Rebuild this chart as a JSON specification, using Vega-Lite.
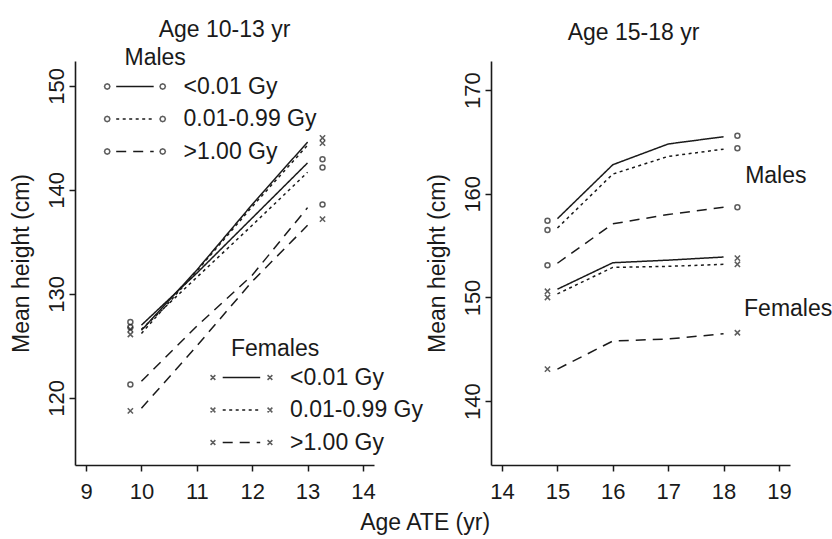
{
  "$schema": "https://vega.github.io/schema/vega-lite/v6.json",
  "background": "white",
  "padding": {"left": 10, "top": 19, "right": 2, "bottom": 2},
  "config": {
    "view": {"stroke": null},
    "font": "Liberation Sans",
    "axis": {"grid": false, "domainColor": "#1a1a1a", "domainWidth": 1.6, "tickColor": "#1a1a1a", "tickWidth": 1.5, "tickSize": 6, "labelFont": "Liberation Sans", "labelFontSize": 22, "labelColor": "#1a1a1a", "titleFont": "Liberation Sans", "titleFontSize": 23, "titleFontWeight": "normal", "titleColor": "#1a1a1a", "format": "d"},
    "axisY": {"labelAngle": -90, "labelAlign": "center", "labelBaseline": "bottom", "labelPadding": 1, "titlePadding": 12},
    "axisX": {"labelPadding": 10},
    "legend": {"labelFont": "Liberation Sans", "titleFont": "Liberation Sans", "labelFontSize": 23, "titleFontSize": 23, "titleFontWeight": "normal", "labelColor": "#1a1a1a", "titleColor": "#1a1a1a", "padding": 0, "rowPadding": 4.5, "titlePadding": 0.5, "symbolSize": 900, "symbolStrokeWidth": 1.5, "symbolFillColor": "transparent", "labelOffset": 27},
    "title": {"font": "Liberation Sans", "fontSize": 23, "fontWeight": "normal", "color": "#1a1a1a"},
    "concat": {"spacing": 3}
  },
  "datasets": {
    "lines": [
      {"p": "L", "sex": "M", "dose": "<0.01 Gy", "age": 10, "h": 127.0},
      {"p": "L", "sex": "M", "dose": "<0.01 Gy", "age": 11, "h": 132.0},
      {"p": "L", "sex": "M", "dose": "<0.01 Gy", "age": 12, "h": 137.3},
      {"p": "L", "sex": "M", "dose": "<0.01 Gy", "age": 13, "h": 142.6},
      {"p": "L", "sex": "M", "dose": "0.01-0.99 Gy", "age": 10, "h": 126.6},
      {"p": "L", "sex": "M", "dose": "0.01-0.99 Gy", "age": 11, "h": 131.6},
      {"p": "L", "sex": "M", "dose": "0.01-0.99 Gy", "age": 12, "h": 136.6},
      {"p": "L", "sex": "M", "dose": "0.01-0.99 Gy", "age": 13, "h": 141.7},
      {"p": "L", "sex": "M", "dose": ">1.00 Gy", "age": 10, "h": 121.6},
      {"p": "L", "sex": "M", "dose": ">1.00 Gy", "age": 11, "h": 126.9},
      {"p": "L", "sex": "M", "dose": ">1.00 Gy", "age": 12, "h": 131.8},
      {"p": "L", "sex": "M", "dose": ">1.00 Gy", "age": 13, "h": 138.3},
      {"p": "L", "sex": "F", "dose": "<0.01 Gy", "age": 10, "h": 126.5},
      {"p": "L", "sex": "F", "dose": "<0.01 Gy", "age": 11, "h": 132.3},
      {"p": "L", "sex": "F", "dose": "<0.01 Gy", "age": 12, "h": 138.6},
      {"p": "L", "sex": "F", "dose": "<0.01 Gy", "age": 13, "h": 144.6},
      {"p": "L", "sex": "F", "dose": "0.01-0.99 Gy", "age": 10, "h": 126.2},
      {"p": "L", "sex": "F", "dose": "0.01-0.99 Gy", "age": 11, "h": 132.2},
      {"p": "L", "sex": "F", "dose": "0.01-0.99 Gy", "age": 12, "h": 138.4},
      {"p": "L", "sex": "F", "dose": "0.01-0.99 Gy", "age": 13, "h": 144.3},
      {"p": "L", "sex": "F", "dose": ">1.00 Gy", "age": 10, "h": 119.0},
      {"p": "L", "sex": "F", "dose": ">1.00 Gy", "age": 11, "h": 125.0},
      {"p": "L", "sex": "F", "dose": ">1.00 Gy", "age": 12, "h": 131.2},
      {"p": "L", "sex": "F", "dose": ">1.00 Gy", "age": 13, "h": 136.6},
      {"p": "R", "sex": "M", "dose": "<0.01 Gy", "age": 15, "h": 157.6},
      {"p": "R", "sex": "M", "dose": "<0.01 Gy", "age": 16, "h": 162.8},
      {"p": "R", "sex": "M", "dose": "<0.01 Gy", "age": 17, "h": 164.8},
      {"p": "R", "sex": "M", "dose": "<0.01 Gy", "age": 18, "h": 165.5},
      {"p": "R", "sex": "M", "dose": "0.01-0.99 Gy", "age": 15, "h": 156.7},
      {"p": "R", "sex": "M", "dose": "0.01-0.99 Gy", "age": 16, "h": 161.9},
      {"p": "R", "sex": "M", "dose": "0.01-0.99 Gy", "age": 17, "h": 163.6},
      {"p": "R", "sex": "M", "dose": "0.01-0.99 Gy", "age": 18, "h": 164.3},
      {"p": "R", "sex": "M", "dose": ">1.00 Gy", "age": 15, "h": 153.3},
      {"p": "R", "sex": "M", "dose": ">1.00 Gy", "age": 16, "h": 157.1},
      {"p": "R", "sex": "M", "dose": ">1.00 Gy", "age": 17, "h": 158.0},
      {"p": "R", "sex": "M", "dose": ">1.00 Gy", "age": 18, "h": 158.7},
      {"p": "R", "sex": "F", "dose": "<0.01 Gy", "age": 15, "h": 150.8},
      {"p": "R", "sex": "F", "dose": "<0.01 Gy", "age": 16, "h": 153.35},
      {"p": "R", "sex": "F", "dose": "<0.01 Gy", "age": 17, "h": 153.6},
      {"p": "R", "sex": "F", "dose": "<0.01 Gy", "age": 18, "h": 153.9},
      {"p": "R", "sex": "F", "dose": "0.01-0.99 Gy", "age": 15, "h": 150.35},
      {"p": "R", "sex": "F", "dose": "0.01-0.99 Gy", "age": 16, "h": 152.9},
      {"p": "R", "sex": "F", "dose": "0.01-0.99 Gy", "age": 17, "h": 153.0},
      {"p": "R", "sex": "F", "dose": "0.01-0.99 Gy", "age": 18, "h": 153.2},
      {"p": "R", "sex": "F", "dose": ">1.00 Gy", "age": 15, "h": 143.1},
      {"p": "R", "sex": "F", "dose": ">1.00 Gy", "age": 16, "h": 145.8},
      {"p": "R", "sex": "F", "dose": ">1.00 Gy", "age": 17, "h": 146.0},
      {"p": "R", "sex": "F", "dose": ">1.00 Gy", "age": 18, "h": 146.5}
    ],
    "markers": [
      {"p": "L", "sex": "M", "dose": "<0.01 Gy", "age": 9.8, "h": 127.3},
      {"p": "L", "sex": "M", "dose": "0.01-0.99 Gy", "age": 9.8, "h": 126.8},
      {"p": "L", "sex": "M", "dose": ">1.00 Gy", "age": 9.8, "h": 121.3},
      {"p": "L", "sex": "F", "dose": "<0.01 Gy", "age": 9.8, "h": 126.6},
      {"p": "L", "sex": "F", "dose": "0.01-0.99 Gy", "age": 9.8, "h": 126.1},
      {"p": "L", "sex": "F", "dose": ">1.00 Gy", "age": 9.8, "h": 118.75},
      {"p": "L", "sex": "M", "dose": "<0.01 Gy", "age": 13.27, "h": 142.95},
      {"p": "L", "sex": "M", "dose": "0.01-0.99 Gy", "age": 13.27, "h": 142.15},
      {"p": "L", "sex": "M", "dose": ">1.00 Gy", "age": 13.27, "h": 138.6},
      {"p": "L", "sex": "F", "dose": "<0.01 Gy", "age": 13.27, "h": 145.0},
      {"p": "L", "sex": "F", "dose": "0.01-0.99 Gy", "age": 13.27, "h": 144.5},
      {"p": "L", "sex": "F", "dose": ">1.00 Gy", "age": 13.27, "h": 137.2},
      {"p": "R", "sex": "M", "dose": "<0.01 Gy", "age": 14.82, "h": 157.4},
      {"p": "R", "sex": "M", "dose": "0.01-0.99 Gy", "age": 14.82, "h": 156.5},
      {"p": "R", "sex": "M", "dose": ">1.00 Gy", "age": 14.82, "h": 153.1},
      {"p": "R", "sex": "F", "dose": "<0.01 Gy", "age": 14.82, "h": 150.6},
      {"p": "R", "sex": "F", "dose": "0.01-0.99 Gy", "age": 14.82, "h": 150.0},
      {"p": "R", "sex": "F", "dose": ">1.00 Gy", "age": 14.82, "h": 143.1},
      {"p": "R", "sex": "M", "dose": "<0.01 Gy", "age": 18.25, "h": 165.6},
      {"p": "R", "sex": "M", "dose": "0.01-0.99 Gy", "age": 18.25, "h": 164.4},
      {"p": "R", "sex": "M", "dose": ">1.00 Gy", "age": 18.25, "h": 158.7},
      {"p": "R", "sex": "F", "dose": "<0.01 Gy", "age": 18.25, "h": 153.8},
      {"p": "R", "sex": "F", "dose": "0.01-0.99 Gy", "age": 18.25, "h": 153.2},
      {"p": "R", "sex": "F", "dose": ">1.00 Gy", "age": 18.25, "h": 146.6}
    ],
    "labels": [
      {"p": "R", "text": "Males", "age": 18.39, "h": 161.7},
      {"p": "R", "text": "Females", "age": 18.37, "h": 148.9}
    ]
  },
  "title": {"text": "Age ATE (yr)", "orient": "bottom", "anchor": "middle", "offset": 10, "dx": 4},
  "resolve": {"scale": {"x": "independent", "y": "independent", "strokeDash": "independent", "shape": "independent"}},
  "hconcat": [
    {
      "width": 299,
      "height": 404,
      "title": {"text": "Age 10-13 yr", "offset": 5},
      "layer": [
        {
          "data": {"name": "lines"},
          "transform": [{"filter": "datum.p == 'L' && datum.sex == 'M'"}],
          "mark": {"type": "line", "color": "#1a1a1a", "strokeWidth": 1.5},
          "encoding": {
            "x": {"field": "age", "type": "quantitative", "scale": {"domain": [8.8, 14.2], "nice": false, "zero": false}, "axis": {"title": null, "values": [9, 10, 11, 12, 13, 14]}},
            "y": {"field": "h", "type": "quantitative", "scale": {"domain": [113.55, 152.4], "nice": false, "zero": false}, "axis": {"title": "Mean height (cm)", "values": [120, 130, 140, 150]}},
            "strokeDash": {"field": "dose", "type": "nominal", "scale": {"domain": ["<0.01 Gy", "0.01-0.99 Gy", ">1.00 Gy"], "range": [[1, 0], [3, 3.5], [10, 7]]}, "legend": {"title": "Males", "orient": "none", "legendX": 49.5, "legendY": -14, "symbolType": "M-1.62,0L0.88,0"}}
          }
        },
        {
          "data": {"name": "lines"},
          "transform": [{"filter": "datum.p == 'L' && datum.sex == 'F'"}],
          "mark": {"type": "line", "color": "#1a1a1a", "strokeWidth": 1.5},
          "encoding": {
            "x": {"field": "age", "type": "quantitative"},
            "y": {"field": "h", "type": "quantitative"},
            "strokeDash": {"field": "dose", "type": "nominal", "scale": {"domain": ["<0.01 Gy", "0.01-0.99 Gy", ">1.00 Gy"], "range": [[1, 0], [3, 3.5], [10, 7]]}, "legend": {"title": "Females", "orient": "none", "legendX": 156, "legendY": 277, "symbolType": "M-1.62,0L0.88,0"}}
          }
        },
        {
          "data": {"name": "markers"},
          "transform": [{"filter": "datum.p == 'L' && datum.sex == 'M'"}],
          "mark": {"type": "point", "shape": "circle", "size": 25, "filled": false, "color": "#1a1a1a", "strokeWidth": 1.5},
          "encoding": {
            "x": {"field": "age", "type": "quantitative"},
            "y": {"field": "h", "type": "quantitative"}
          }
        },
        {
          "data": {"name": "markers"},
          "transform": [{"filter": "datum.p == 'L' && datum.sex == 'F'"}],
          "mark": {"type": "point", "shape": "M-1,-1L1,1M-1,1L1,-1", "size": 28, "filled": false, "color": "#1a1a1a", "strokeWidth": 1.5},
          "encoding": {
            "x": {"field": "age", "type": "quantitative"},
            "y": {"field": "h", "type": "quantitative"}
          }
        },
        {
          "data": {"name": "markers"},
          "transform": [{"filter": "datum.p == 'none'"}],
          "mark": {"type": "point", "filled": false, "color": "#1a1a1a", "strokeWidth": 1.5},
          "encoding": {
            "x": {"field": "age", "type": "quantitative"},
            "y": {"field": "h", "type": "quantitative"},
            "shape": {"field": "dose", "type": "nominal", "scale": {"domain": ["<0.01 Gy", "0.01-0.99 Gy", ">1.00 Gy"], "range": ["M-2.04,0L-2.093,0.127L-2.22,0.18L-2.347,0.127L-2.4,0L-2.347,-0.127L-2.22,-0.18L-2.093,-0.127ZM1.66,0L1.607,0.127L1.48,0.18L1.353,0.127L1.3,0L1.353,-0.127L1.48,-0.18L1.607,-0.127Z", "M-2.04,0L-2.093,0.127L-2.22,0.18L-2.347,0.127L-2.4,0L-2.347,-0.127L-2.22,-0.18L-2.093,-0.127ZM1.66,0L1.607,0.127L1.48,0.18L1.353,0.127L1.3,0L1.353,-0.127L1.48,-0.18L1.607,-0.127Z", "M-2.04,0L-2.093,0.127L-2.22,0.18L-2.347,0.127L-2.4,0L-2.347,-0.127L-2.22,-0.18L-2.093,-0.127ZM1.66,0L1.607,0.127L1.48,0.18L1.353,0.127L1.3,0L1.353,-0.127L1.48,-0.18L1.607,-0.127Z"]}, "legend": {"title": "Males", "orient": "none", "legendX": 49.5, "legendY": -14, "titleOpacity": 0, "labelOpacity": 0}}
          }
        },
        {
          "data": {"name": "markers"},
          "transform": [{"filter": "datum.p == 'none'"}],
          "mark": {"type": "point", "filled": false, "color": "#1a1a1a", "strokeWidth": 1.5},
          "encoding": {
            "x": {"field": "age", "type": "quantitative"},
            "y": {"field": "h", "type": "quantitative"},
            "shape": {"field": "dose", "type": "nominal", "scale": {"domain": ["<0.01 Gy", "0.01-0.99 Gy", ">1.00 Gy"], "range": ["M-2.43,-0.16L-2.11,0.16M-2.43,0.16L-2.11,-0.16M1.37,-0.16L1.69,0.16M1.37,0.16L1.69,-0.16", "M-2.43,-0.16L-2.11,0.16M-2.43,0.16L-2.11,-0.16M1.37,-0.16L1.69,0.16M1.37,0.16L1.69,-0.16", "M-2.43,-0.16L-2.11,0.16M-2.43,0.16L-2.11,-0.16M1.37,-0.16L1.69,0.16M1.37,0.16L1.69,-0.16"]}, "legend": {"title": "Females", "orient": "none", "legendX": 156, "legendY": 277, "titleOpacity": 0, "labelOpacity": 0}}
          }
        }
      ],
      "resolve": {"scale": {"strokeDash": "independent", "shape": "independent"}}
    },
    {
      "width": 299,
      "height": 404,
      "title": {"text": "Age 15-18 yr", "offset": 16, "dx": -7},
      "layer": [
        {
          "data": {"name": "lines"},
          "transform": [{"filter": "datum.p == 'R'"}],
          "mark": {"type": "line", "color": "#1a1a1a", "strokeWidth": 1.5},
          "encoding": {
            "x": {"field": "age", "type": "quantitative", "scale": {"domain": [13.8, 19.2], "nice": false, "zero": false}, "axis": {"title": null, "values": [14, 15, 16, 17, 18, 19]}},
            "y": {"field": "h", "type": "quantitative", "scale": {"domain": [133.85, 172.8], "nice": false, "zero": false}, "axis": {"title": "Mean height (cm)", "values": [140, 150, 160, 170]}},
            "detail": {"field": "sex", "type": "nominal"},
            "strokeDash": {"field": "dose", "type": "nominal", "scale": {"domain": ["<0.01 Gy", "0.01-0.99 Gy", ">1.00 Gy"], "range": [[1, 0], [3, 3.5], [10, 7]]}, "legend": null}
          }
        },
        {
          "data": {"name": "markers"},
          "transform": [{"filter": "datum.p == 'R' && datum.sex == 'M'"}],
          "mark": {"type": "point", "shape": "circle", "size": 25, "filled": false, "color": "#1a1a1a", "strokeWidth": 1.5},
          "encoding": {
            "x": {"field": "age", "type": "quantitative"},
            "y": {"field": "h", "type": "quantitative"}
          }
        },
        {
          "data": {"name": "markers"},
          "transform": [{"filter": "datum.p == 'R' && datum.sex == 'F'"}],
          "mark": {"type": "point", "shape": "M-1,-1L1,1M-1,1L1,-1", "size": 28, "filled": false, "color": "#1a1a1a", "strokeWidth": 1.5},
          "encoding": {
            "x": {"field": "age", "type": "quantitative"},
            "y": {"field": "h", "type": "quantitative"}
          }
        },
        {
          "data": {"name": "labels"},
          "mark": {"type": "text", "align": "left", "baseline": "middle", "font": "Liberation Sans", "fontSize": 23, "color": "#1a1a1a"},
          "encoding": {
            "x": {"field": "age", "type": "quantitative"},
            "y": {"field": "h", "type": "quantitative"},
            "text": {"field": "text"}
          }
        }
      ]
    }
  ]
}
